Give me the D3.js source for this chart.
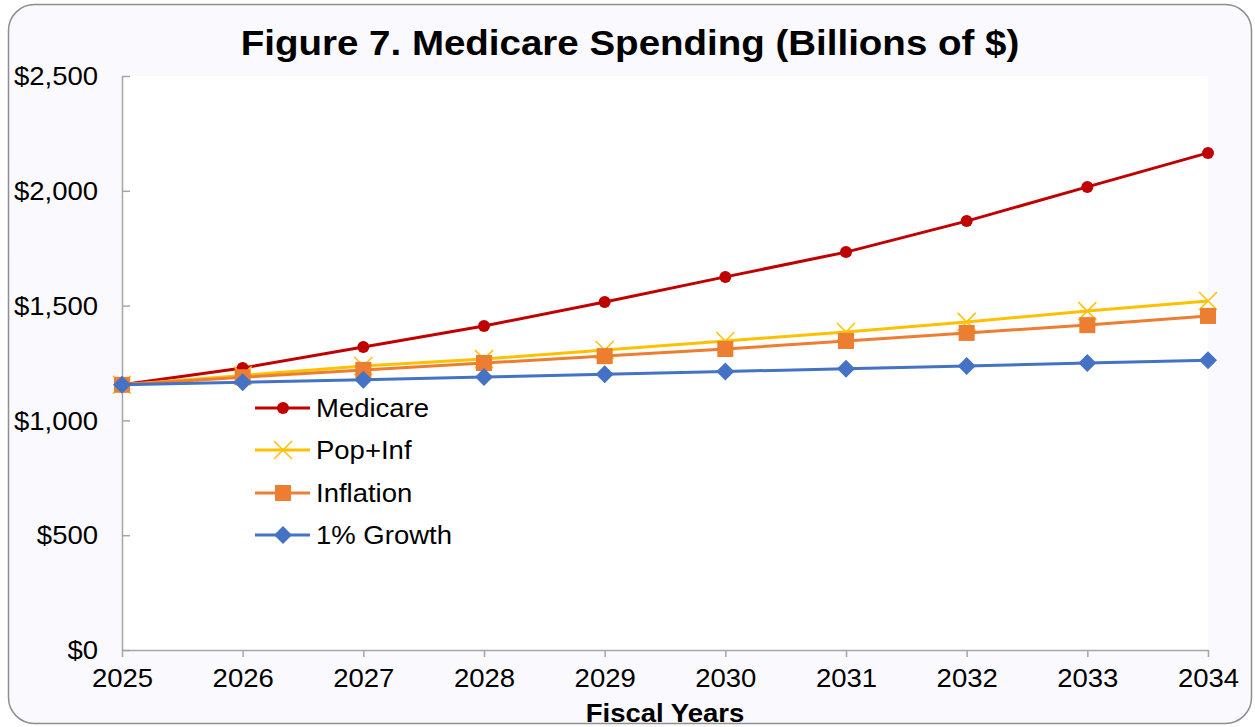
<!DOCTYPE html>
<html>
<head>
<meta charset="utf-8">
<script src="https://cdn.jsdelivr.net/npm/d3@7"></script>
<style>
  html, body { margin: 0; padding: 0; background: #ffffff; }
  svg { display: block; font-family: "Liberation Sans", Arial, sans-serif; }
</style>
</head>
<body>
<svg id="chart" width="1255" height="727"></svg>
<script>
// Fiscal years on the x axis
const years = [2025, 2026, 2027, 2028, 2029, 2030, 2031, 2032, 2033, 2034];

// Spending projections, billions of dollars
const medicare  = [1155, 1228, 1320, 1411, 1516, 1625, 1733, 1868, 2017, 2165];
const popInf    = [1155, 1196, 1237, 1267, 1307, 1346, 1385, 1429, 1476, 1520];
const inflation = [1155, 1188, 1220, 1250, 1280, 1311, 1346, 1381, 1415, 1455];
const growth1   = [1155, 1166, 1177, 1189, 1201, 1213, 1225, 1237, 1250, 1262];

const yTicks = [0, 500, 1000, 1500, 2000, 2500];

const seriesNames  = ["Medicare", "Pop+Inf", "Inflation", "1% Growth"];
const seriesValues = [medicare, popInf, inflation, growth1];
const seriesColors = ["#C00000", "#FFC000", "#ED7D31", "#4472C4"];
const seriesShapes = ["circle", "x", "square", "diamond"];

const svg = d3.select("#chart");
const SX = 1.1; // slight horizontal widening of the lettering

// Outer rounded panel
svg.append("rect")
  .attr("x", 8.5).attr("y", 4.5)
  .attr("width", 1243).attr("height", 719)
  .attr("rx", 26).attr("ry", 26)
  .attr("fill", "#F9F9FE")
  .attr("stroke", "#8E8E8E")
  .attr("stroke-width", 1.5);

const plot = { left: 122, right: 1208, top: 76, bottom: 650 };

const x = d3.scaleLinear().domain([2025, 2034]).range([plot.left, plot.right]);
const y = d3.scaleLinear().domain([0, 2500]).range([plot.bottom, plot.top]);

// Plot background
svg.append("rect")
  .attr("x", plot.left).attr("y", plot.top)
  .attr("width", plot.right - plot.left)
  .attr("height", plot.bottom - plot.top)
  .attr("fill", "#FFFFFF");

// Title
svg.append("text")
  .attr("transform", `translate(630,55) scale(${SX},1)`)
  .attr("text-anchor", "middle")
  .attr("font-size", 35).attr("font-weight", "bold").attr("fill", "#000")
  .text("Figure 7. Medicare Spending (Billions of $)");

// Y axis: ticks point into the plot
const yAxis = svg.append("g")
  .attr("transform", `translate(${plot.left},0)`)
  .call(d3.axisLeft(y).tickValues(yTicks).tickSizeInner(-8).tickSizeOuter(0)
        .tickFormat(d => "$" + d3.format(",")(d)));
yAxis.select(".domain").attr("stroke", "#A6A6A6").attr("stroke-width", 1.5);
yAxis.selectAll(".tick line").attr("stroke", "#A6A6A6").attr("stroke-width", 1.5);
yAxis.selectAll(".tick text")
  .attr("x", 0).attr("dy", "0.35em")
  .attr("transform", `translate(-24,0) scale(${SX},1)`)
  .attr("font-size", 25).attr("fill", "#000")
  .attr("font-family", "Liberation Sans, Arial, sans-serif");

// X axis: ticks point outward
const xAxis = svg.append("g")
  .attr("transform", `translate(0,${plot.bottom})`)
  .call(d3.axisBottom(x).tickValues(years).tickSizeInner(7).tickSizeOuter(0)
        .tickFormat(d3.format("d")));
xAxis.select(".domain").attr("stroke", "#A6A6A6").attr("stroke-width", 1.5);
xAxis.selectAll(".tick line").attr("stroke", "#A6A6A6").attr("stroke-width", 1.5);
xAxis.selectAll(".tick text")
  .attr("y", 0).attr("dy", 0)
  .attr("transform", `translate(0,37) scale(${SX},1)`)
  .attr("font-size", 25).attr("fill", "#000")
  .attr("font-family", "Liberation Sans, Arial, sans-serif");

// X axis title
svg.append("text")
  .attr("transform", `translate(${(plot.left + plot.right) / 2},722) scale(${SX},1)`)
  .attr("text-anchor", "middle")
  .attr("font-size", 25).attr("font-weight", "bold").attr("fill", "#000")
  .text("Fiscal Years");

// Marker drawing
function drawMarker(g, shape, color, cx, cy) {
  if (shape === "circle") {
    g.append("circle").attr("cx", cx).attr("cy", cy).attr("r", 6).attr("fill", color);
  } else if (shape === "square") {
    g.append("rect").attr("x", cx - 8).attr("y", cy - 8)
      .attr("width", 16).attr("height", 16).attr("fill", color);
  } else if (shape === "diamond") {
    g.append("path")
      .attr("d", `M${cx},${cy - 9}L${cx + 9},${cy}L${cx},${cy + 9}L${cx - 9},${cy}Z`)
      .attr("fill", color);
  } else if (shape === "x") {
    const s = 9;
    g.append("path")
      .attr("d", `M${cx - s},${cy - s}L${cx + s},${cy + s}M${cx - s},${cy + s}L${cx + s},${cy - s}`)
      .attr("stroke", color).attr("stroke-width", 1.5).attr("fill", "none");
  }
}

const line = d3.line().x(d => x(d[0])).y(d => y(d[1]));

seriesValues.forEach((vals, i) => {
  const g = svg.append("g");
  const pts = years.map((yr, j) => [yr, vals[j]]);
  g.append("path")
    .attr("d", line(pts))
    .attr("fill", "none")
    .attr("stroke", seriesColors[i])
    .attr("stroke-width", 3)
    .attr("stroke-linejoin", "round");
  pts.forEach(p => drawMarker(g, seriesShapes[i], seriesColors[i], x(p[0]), y(p[1])));
});

// Legend
const legendRows = [408, 450, 493, 535];
seriesNames.forEach((name, i) => {
  const g = svg.append("g");
  const ly = legendRows[i];
  g.append("line")
    .attr("x1", 255).attr("x2", 310).attr("y1", ly).attr("y2", ly)
    .attr("stroke", seriesColors[i]).attr("stroke-width", 3);
  drawMarker(g, seriesShapes[i], seriesColors[i], 283, ly);
  g.append("text")
    .attr("transform", `translate(316,${ly}) scale(${SX},1)`)
    .attr("dy", "0.35em")
    .attr("font-size", 25).attr("fill", "#000")
    .text(name);
});
</script>
</body>
</html>
